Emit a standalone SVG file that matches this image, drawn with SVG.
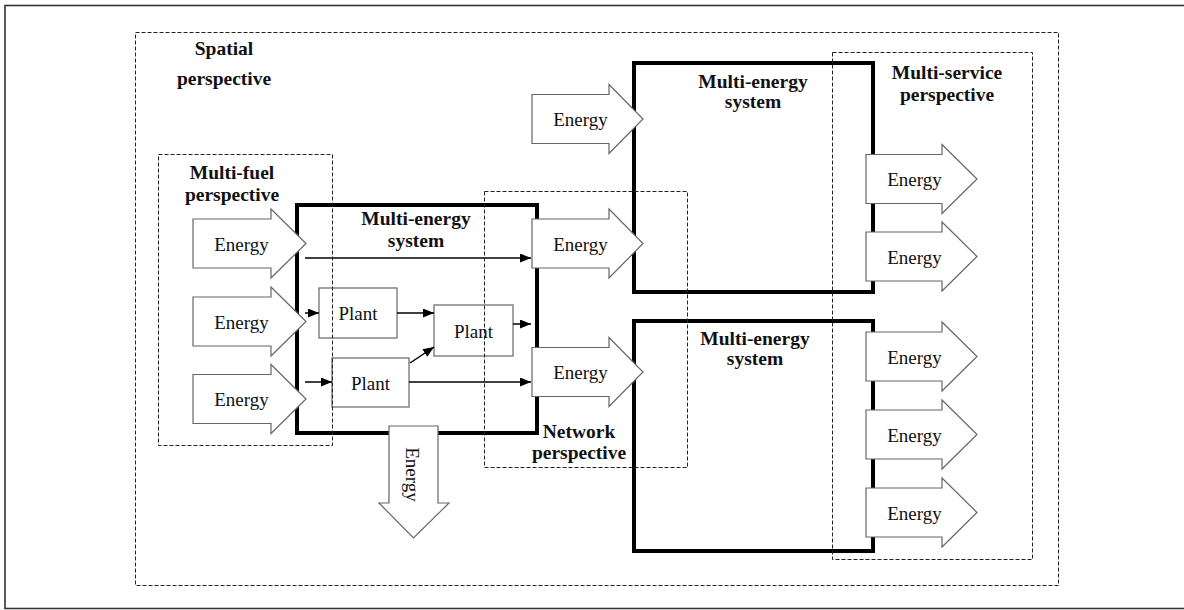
<svg xmlns="http://www.w3.org/2000/svg" width="1184" height="610" viewBox="0 0 1184 610" font-family="'Liberation Serif', 'Times New Roman', 'DejaVu Serif', serif">
<style>
.frame{fill:none;stroke:#333;stroke-width:1.6}
.dash{fill:none;stroke:#222;stroke-width:1;stroke-dasharray:4,2}
.sys{fill:none;stroke:#000;stroke-width:4}
.plant{fill:none;stroke:#666;stroke-width:1.2}
.big{fill:#fff;stroke:#666;stroke-width:1.2}
.con{fill:none;stroke:#000;stroke-width:1.5;marker-end:url(#ah)}
.lbl{font-weight:bold;font-size:19.5px;fill:#111;text-anchor:middle}
.txt{font-size:19px;fill:#111;text-anchor:middle}
</style>
<defs>
<marker id="ah" markerUnits="userSpaceOnUse" markerWidth="12" markerHeight="10" refX="11" refY="4.5" orient="auto">
<path d="M0,0 L11,4.5 L0,9 Z" fill="#000"/>
</marker>
</defs>
<rect x="0" y="0" width="1184" height="610" fill="#fff"/>
<rect class="frame" x="5" y="5.5" width="1200" height="603"/>

<g id="spatial">
<rect class="dash" x="135.5" y="32.5" width="923" height="553"/>
<text class="lbl" x="224" y="55">Spatial</text>
<text class="lbl" x="224" y="85">perspective</text>
</g>

<g id="mes-left">
<rect class="sys" x="297" y="205" width="240" height="228"/>
<text class="lbl" x="416" y="225">Multi-energy</text>
<text class="lbl" x="416" y="247">system</text>
</g>
<g id="mes-top">
<rect class="sys" x="634" y="63" width="239" height="229"/>
<text class="lbl" x="753" y="88">Multi-energy</text>
<text class="lbl" x="753" y="108">system</text>
</g>
<g id="mes-bottom">
<rect class="sys" x="634" y="321" width="239" height="230"/>
<text class="lbl" x="755" y="345">Multi-energy</text>
<text class="lbl" x="755" y="365">system</text>
</g>

<g id="plant1">
<rect class="plant" x="319" y="288" width="78" height="50"/>
<text class="txt" x="358" y="320">Plant</text>
</g>
<g id="plant2">
<rect class="plant" x="434" y="305" width="79" height="51"/>
<text class="txt" x="473.5" y="338">Plant</text>
</g>
<g id="plant3">
<rect class="plant" x="332" y="358" width="77" height="49"/>
<text class="txt" x="370.5" y="389.5">Plant</text>
</g>

<g id="connectors">
<line class="con" x1="305" y1="258" x2="531" y2="258"/>
<line class="con" x1="305" y1="313" x2="319" y2="313"/>
<line class="con" x1="397" y1="313" x2="434" y2="313"/>
<line class="con" x1="513" y1="324" x2="531" y2="324"/>
<line class="con" x1="305" y1="382" x2="332" y2="382"/>
<line class="con" x1="410" y1="363" x2="434" y2="347"/>
<line class="con" x1="409" y1="382" x2="531" y2="382"/>
</g>

<g id="multifuel">
<rect class="dash" x="158.5" y="154.5" width="174" height="291"/>
<text class="lbl" x="232" y="179">Multi-fuel</text>
<text class="lbl" x="232" y="201">perspective</text>
</g>
<g id="network">
<rect class="dash" x="484.5" y="191.5" width="203" height="276"/>
<text class="lbl" x="579" y="438">Network</text>
<text class="lbl" x="579" y="459">perspective</text>
</g>
<g id="multiservice">
<rect class="dash" x="832.5" y="52.5" width="200" height="507"/>
<text class="lbl" x="947" y="79">Multi-service</text>
<text class="lbl" x="947" y="101">perspective</text>
</g>

<g id="in1">
<polygon class="big" points="193,219 271,219 271,209 306,243.5 271,278 271,268 193,268"/>
<text class="txt" x="241.5" y="250.5">Energy</text>
</g>
<g id="in2">
<polygon class="big" points="193,297 271,297 271,287 306,321.5 271,356 271,346 193,346"/>
<text class="txt" x="241.5" y="328.5">Energy</text>
</g>
<g id="in3">
<polygon class="big" points="193,374.5 271,374.5 271,364.5 306,399 271,433.5 271,423.5 193,423.5"/>
<text class="txt" x="241.5" y="406">Energy</text>
</g>

<g id="net1">
<polygon class="big" points="532,94.5 609,94.5 609,84.5 643,119 609,153.5 609,143.5 532,143.5"/>
<text class="txt" x="580.5" y="126">Energy</text>
</g>
<g id="net2">
<polygon class="big" points="532,219 609,219 609,209 643,243.5 609,278 609,268 532,268"/>
<text class="txt" x="580.5" y="250.5">Energy</text>
</g>
<g id="net3">
<polygon class="big" points="532,347.5 609,347.5 609,337.5 643,372 609,406.5 609,396.5 532,396.5"/>
<text class="txt" x="580.5" y="379">Energy</text>
</g>

<g id="out1">
<polygon class="big" points="866,154.5 942,154.5 942,144.5 977,179 942,213.5 942,203.5 866,203.5"/>
<text class="txt" x="914.5" y="186">Energy</text>
</g>
<g id="out2">
<polygon class="big" points="866,232 942,232 942,222 977,256.5 942,291 942,281 866,281"/>
<text class="txt" x="914.5" y="263.5">Energy</text>
</g>
<g id="out3">
<polygon class="big" points="866,332 942,332 942,322 977,356.5 942,391 942,381 866,381"/>
<text class="txt" x="914.5" y="363.5">Energy</text>
</g>
<g id="out4">
<polygon class="big" points="866,410 942,410 942,400 977,434.5 942,469 942,459 866,459"/>
<text class="txt" x="914.5" y="441.5">Energy</text>
</g>
<g id="out5">
<polygon class="big" points="866,488 942,488 942,478 977,512.5 942,547 942,537 866,537"/>
<text class="txt" x="914.5" y="519.5">Energy</text>
</g>

<g id="down">
<polygon class="big" points="389,426 438,426 438,503 449,503 413.5,538 379,503 389,503"/>
<text class="txt" transform="translate(406,474.5) rotate(90)">Energy</text>
</g>
</svg>
